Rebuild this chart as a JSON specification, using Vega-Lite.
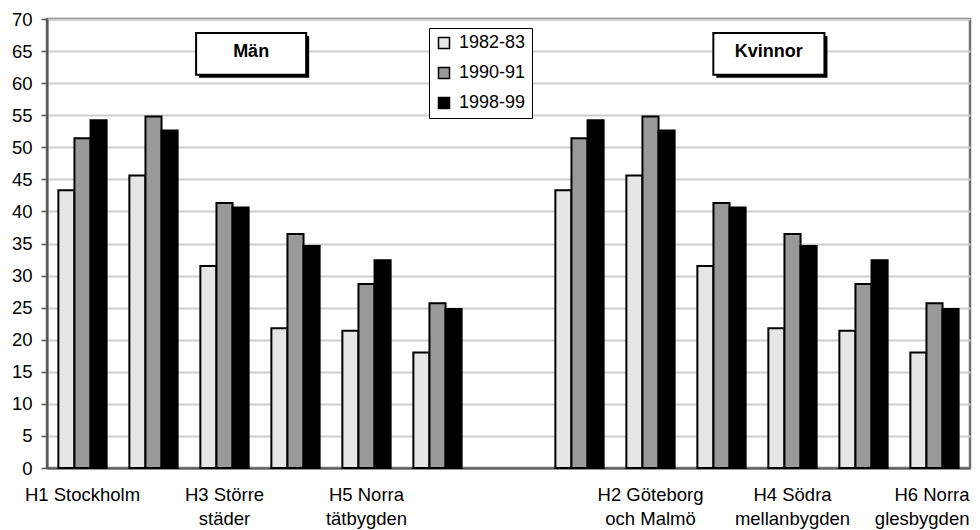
{
  "$schema": "https://vega.github.io/schema/vega-lite/v6.json",
  "width": 923,
  "height": 449,
  "autosize": {"type": "none"},
  "padding": {"left": 47, "top": 19, "right": 10, "bottom": 62},
  "background": "white",
  "config": {
    "font": "Liberation Sans",
    "view": {"stroke": "#707070", "strokeWidth": 2.5},
    "axisY": {
      "grid": true,
      "gridColor": "#cdcdcd",
      "gridWidth": 2,
      "domainColor": "#555555",
      "domainWidth": 2,
      "tickColor": "#555555",
      "tickWidth": 1.5,
      "tickSize": 6,
      "labelFontSize": 18.5,
      "labelColor": "black",
      "labelPadding": 9
    }
  },
  "datasets": {
    "bars": [
      {"cat": "M-H1", "kon": "Män", "region": "H1 Stockholm", "period": "1982-83", "value": 43.3},
      {"cat": "M-H1", "kon": "Män", "region": "H1 Stockholm", "period": "1990-91", "value": 51.4},
      {"cat": "M-H1", "kon": "Män", "region": "H1 Stockholm", "period": "1998-99", "value": 54.2},
      {"cat": "M-H2", "kon": "Män", "region": "H2 Göteborg och Malmö", "period": "1982-83", "value": 45.6},
      {"cat": "M-H2", "kon": "Män", "region": "H2 Göteborg och Malmö", "period": "1990-91", "value": 54.8},
      {"cat": "M-H2", "kon": "Män", "region": "H2 Göteborg och Malmö", "period": "1998-99", "value": 52.6},
      {"cat": "M-H3", "kon": "Män", "region": "H3 Större städer", "period": "1982-83", "value": 31.5},
      {"cat": "M-H3", "kon": "Män", "region": "H3 Större städer", "period": "1990-91", "value": 41.3},
      {"cat": "M-H3", "kon": "Män", "region": "H3 Större städer", "period": "1998-99", "value": 40.6},
      {"cat": "M-H4", "kon": "Män", "region": "H4 Södra mellanbygden", "period": "1982-83", "value": 21.8},
      {"cat": "M-H4", "kon": "Män", "region": "H4 Södra mellanbygden", "period": "1990-91", "value": 36.5},
      {"cat": "M-H4", "kon": "Män", "region": "H4 Södra mellanbygden", "period": "1998-99", "value": 34.6},
      {"cat": "M-H5", "kon": "Män", "region": "H5 Norra tätbygden", "period": "1982-83", "value": 21.4},
      {"cat": "M-H5", "kon": "Män", "region": "H5 Norra tätbygden", "period": "1990-91", "value": 28.7},
      {"cat": "M-H5", "kon": "Män", "region": "H5 Norra tätbygden", "period": "1998-99", "value": 32.4},
      {"cat": "M-H6", "kon": "Män", "region": "H6 Norra glesbygden", "period": "1982-83", "value": 18.0},
      {"cat": "M-H6", "kon": "Män", "region": "H6 Norra glesbygden", "period": "1990-91", "value": 25.7},
      {"cat": "M-H6", "kon": "Män", "region": "H6 Norra glesbygden", "period": "1998-99", "value": 24.8},
      {"cat": "K-H1", "kon": "Kvinnor", "region": "H1 Stockholm", "period": "1982-83", "value": 43.3},
      {"cat": "K-H1", "kon": "Kvinnor", "region": "H1 Stockholm", "period": "1990-91", "value": 51.4},
      {"cat": "K-H1", "kon": "Kvinnor", "region": "H1 Stockholm", "period": "1998-99", "value": 54.2},
      {"cat": "K-H2", "kon": "Kvinnor", "region": "H2 Göteborg och Malmö", "period": "1982-83", "value": 45.6},
      {"cat": "K-H2", "kon": "Kvinnor", "region": "H2 Göteborg och Malmö", "period": "1990-91", "value": 54.8},
      {"cat": "K-H2", "kon": "Kvinnor", "region": "H2 Göteborg och Malmö", "period": "1998-99", "value": 52.6},
      {"cat": "K-H3", "kon": "Kvinnor", "region": "H3 Större städer", "period": "1982-83", "value": 31.5},
      {"cat": "K-H3", "kon": "Kvinnor", "region": "H3 Större städer", "period": "1990-91", "value": 41.3},
      {"cat": "K-H3", "kon": "Kvinnor", "region": "H3 Större städer", "period": "1998-99", "value": 40.6},
      {"cat": "K-H4", "kon": "Kvinnor", "region": "H4 Södra mellanbygden", "period": "1982-83", "value": 21.8},
      {"cat": "K-H4", "kon": "Kvinnor", "region": "H4 Södra mellanbygden", "period": "1990-91", "value": 36.5},
      {"cat": "K-H4", "kon": "Kvinnor", "region": "H4 Södra mellanbygden", "period": "1998-99", "value": 34.6},
      {"cat": "K-H5", "kon": "Kvinnor", "region": "H5 Norra tätbygden", "period": "1982-83", "value": 21.4},
      {"cat": "K-H5", "kon": "Kvinnor", "region": "H5 Norra tätbygden", "period": "1990-91", "value": 28.7},
      {"cat": "K-H5", "kon": "Kvinnor", "region": "H5 Norra tätbygden", "period": "1998-99", "value": 32.4},
      {"cat": "K-H6", "kon": "Kvinnor", "region": "H6 Norra glesbygden", "period": "1982-83", "value": 18.0},
      {"cat": "K-H6", "kon": "Kvinnor", "region": "H6 Norra glesbygden", "period": "1990-91", "value": 25.7},
      {"cat": "K-H6", "kon": "Kvinnor", "region": "H6 Norra glesbygden", "period": "1998-99", "value": 24.8}
    ],
    "boxes": [
      {"label": "Män", "x1": 2.10, "x2": 3.65, "xc": 2.875, "y1": 67.8, "y2": 61.3, "yc": 64.9},
      {"label": "Kvinnor", "x1": 9.385, "x2": 10.95, "xc": 10.167, "y1": 67.8, "y2": 61.3, "yc": 64.9}
    ]
  },
  "layer": [
    {
      "data": {"name": "bars"},
      "mark": {"type": "bar", "stroke": "black", "strokeWidth": 2},
      "encoding": {
        "x": {
          "field": "cat",
          "type": "nominal",
          "sort": null,
          "scale": {
            "domain": ["M-H1", "M-H2", "M-H3", "M-H4", "M-H5", "M-H6", "gap", "K-H1", "K-H2", "K-H3", "K-H4", "K-H5", "K-H6"],
            "paddingInner": 0.32,
            "paddingOuter": 0.16
          },
          "axis": {
            "title": null,
            "ticks": false,
            "domainColor": "#555555",
            "domainWidth": 2,
            "labelAngle": 0,
            "labelFontSize": 18.5,
            "labelColor": "black",
            "labelLineHeight": 24.5,
            "labelPadding": 17,
            "labelLimit": 300,
            "labelOverlap": false,
            "labelAlign": {"condition": {"test": "datum.value == 'K-H6'", "value": "right"}, "value": "center"},
            "labelOffset": {"condition": {"test": "datum.value == 'K-H6'", "value": 35}, "value": 0},
            "labelExpr": "datum.value == 'M-H1' ? 'H1 Stockholm' : datum.value == 'M-H3' ? ['H3 Större', 'städer'] : datum.value == 'M-H5' ? ['H5 Norra', 'tätbygden'] : datum.value == 'K-H2' ? ['H2 Göteborg', 'och Malmö'] : datum.value == 'K-H4' ? ['H4 Södra', 'mellanbygden'] : datum.value == 'K-H6' ? ['H6 Norra', 'glesbygden'] : ''"
          }
        },
        "xOffset": {
          "field": "period",
          "type": "nominal",
          "scale": {"paddingInner": 0, "paddingOuter": 0}
        },
        "y": {
          "field": "value",
          "type": "quantitative",
          "scale": {"domain": [0, 70], "nice": false},
          "axis": {"title": null, "values": [0, 5, 10, 15, 20, 25, 30, 35, 40, 45, 50, 55, 60, 65, 70]}
        },
        "fill": {
          "field": "period",
          "type": "nominal",
          "scale": {
            "domain": ["1982-83", "1990-91", "1998-99"],
            "range": ["#e6e6e6", "#999999", "#000000"]
          },
          "legend": {
            "title": null,
            "orient": "none",
            "legendX": 382,
            "legendY": 9,
            "fillColor": "white",
            "strokeColor": "black",
            "padding": 6,
            "symbolType": "square",
            "symbolSize": 121,
            "symbolStrokeColor": "black",
            "symbolStrokeWidth": 1.5,
            "labelFontSize": 18,
            "labelColor": "black",
            "labelOffset": 6,
            "rowPadding": 12
          }
        }
      }
    },
    {
      "data": {"name": "boxes"},
      "mark": {"type": "rect", "fill": "black", "xOffset": 3, "x2Offset": 3, "yOffset": 3, "y2Offset": 3},
      "encoding": {
        "x": {"field": "x1", "type": "quantitative", "scale": {"domain": [0, 13], "nice": false, "zero": false}, "axis": null},
        "x2": {"field": "x2"},
        "y": {"field": "y1", "type": "quantitative", "axis": {"title": null, "values": [0, 5, 10, 15, 20, 25, 30, 35, 40, 45, 50, 55, 60, 65, 70]}},
        "y2": {"field": "y2"}
      }
    },
    {
      "data": {"name": "boxes"},
      "mark": {"type": "rect", "fill": "white", "stroke": "black", "strokeWidth": 2},
      "encoding": {
        "x": {"field": "x1", "type": "quantitative", "scale": {"domain": [0, 13], "nice": false, "zero": false}, "axis": null},
        "x2": {"field": "x2"},
        "y": {"field": "y1", "type": "quantitative", "axis": {"title": null, "values": [0, 5, 10, 15, 20, 25, 30, 35, 40, 45, 50, 55, 60, 65, 70]}},
        "y2": {"field": "y2"}
      }
    },
    {
      "data": {"name": "boxes"},
      "mark": {"type": "text", "fontSize": 18, "fontWeight": "bold", "color": "black", "baseline": "middle", "align": "center"},
      "encoding": {
        "x": {"field": "xc", "type": "quantitative", "scale": {"domain": [0, 13], "nice": false, "zero": false}, "axis": null},
        "y": {"field": "yc", "type": "quantitative", "axis": {"title": null, "values": [0, 5, 10, 15, 20, 25, 30, 35, 40, 45, 50, 55, 60, 65, 70]}},
        "text": {"field": "label"}
      }
    }
  ],
  "resolve": {"scale": {"x": "independent"}}
}
